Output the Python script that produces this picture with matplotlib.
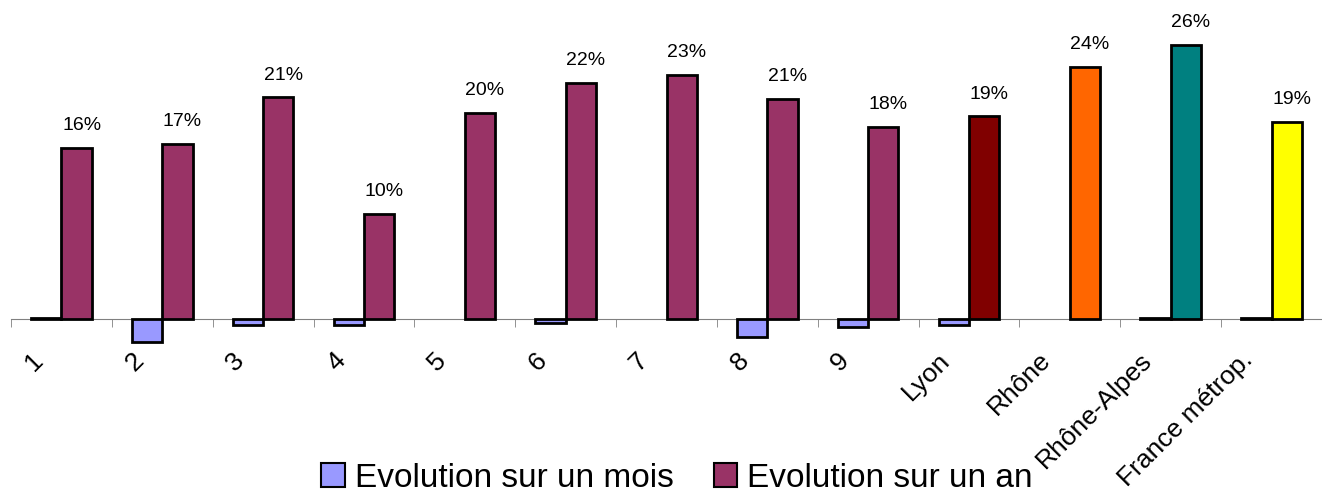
import matplotlib.pyplot as plt
import matplotlib.transforms as mtransforms
import numpy as np
from matplotlib.patches import Patch

plt.rcParams['font.family'] = ['Liberation Sans', 'DejaVu Sans']

categories = ['1', '2', '3', '4', '5', '6', '7', '8', '9',
              'Lyon', 'Rhône', 'Rhône-Alpes', 'France métrop.']
mois = [0.1, -2.2, -0.6, -0.6, 0.0, -0.4, 0.0, -1.7, -0.8, -0.6, 0.0, 0.1, 0.1]
an = [16.2, 16.6, 21.0, 10.0, 19.5, 22.4, 23.1, 20.9, 18.2, 19.2, 23.9, 26.0, 18.7]
couleurs_an = ['#993366'] * 9 + ['#800000', '#FF6600', '#008080', '#FFFF00']

fig = plt.figure(figsize=(13.22, 4.92), dpi=100)
ax = fig.add_axes([11 / 1322, 1 - 350.7 / 492, 1 - 11 / 1322, (350.7 - 2.5) / 492])

x = np.arange(len(categories))
w = 0.3
# pas de contour pour les valeurs nulles
lw_mois = [2 if v != 0 else 0 for v in mois]
ax.bar(x - w / 2, mois, w, color='#9999FF', edgecolor='black', linewidth=lw_mois)
ax.bar(x + w / 2, an, w, color=couleurs_an, edgecolor='black', linewidth=2)

for xi, v in zip(x, an):
    ax.annotate('{:.0f}%'.format(v), (xi + w / 2 + 0.05, v), xytext=(0, 10),
                textcoords='offset points', ha='center', va='bottom', fontsize=14)

ax.set_xlim(-0.5, len(categories) - 0.5)
ax.set_ylim(-3, 30)

for s in ['left', 'right', 'top']:
    ax.spines[s].set_visible(False)
ax.spines['bottom'].set_position(('data', 0))
ax.spines['bottom'].set_color('#808080')
ax.spines['bottom'].set_zorder(0)
ax.set_yticks([])

ax.set_xticks(x)
ax.set_xticklabels(categories, rotation=45, ha='right', rotation_mode='default', fontsize=19)
ax.tick_params(axis='x', which='major', length=0, pad=15)
decalage = mtransforms.ScaledTranslation(-14 / 100, -8 / 100, fig.dpi_scale_trans)
for lab in ax.get_xticklabels():
    lab.set_transform(lab.get_transform() + decalage)
ax.set_xticks(np.arange(-0.5, len(categories) + 0.5, 1), minor=True)
ax.tick_params(axis='x', which='minor', length=6, color='#808080', direction='out')

handles = [Patch(facecolor='#9999FF', edgecolor='black', linewidth=1.5),
           Patch(facecolor='#993366', edgecolor='black', linewidth=1.5)]
fig.legend(handles, ['Evolution sur un mois', 'Evolution sur un an'], loc='center',
           bbox_to_anchor=(0.512, 0.028), ncol=2, frameon=False, fontsize=24,
           handlelength=0.7, handleheight=0.7, handletextpad=0.3, columnspacing=1.2,
           borderpad=0, borderaxespad=0)

fig.savefig('out.png', dpi=100)
